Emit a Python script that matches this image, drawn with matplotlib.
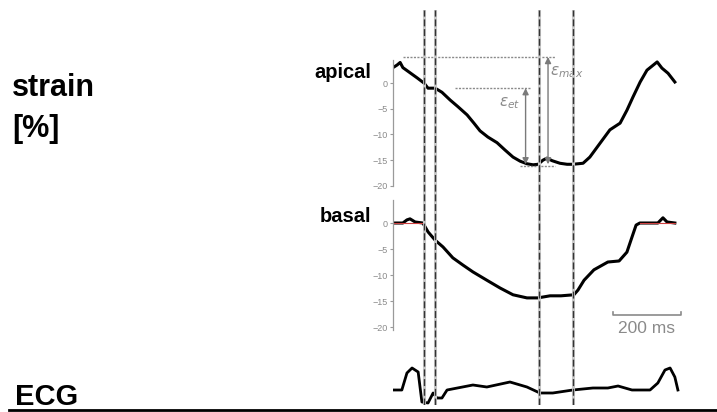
import matplotlib

matplotlib.use("Agg")
import matplotlib.pyplot as plt
from matplotlib.lines import Line2D

plt.rcParams["font.family"] = ["Liberation Sans", "DejaVu Sans"]

# time in ms, strain in %
apical_t = [0, 12, 21, 29, 50, 71, 91, 103, 124, 144, 168, 191, 218, 238, 256, 279,
            306, 329, 353, 374, 394, 412, 427, 441, 453, 468, 491, 512, 529, 559,
            579, 609, 638, 668, 688, 706, 727, 747, 777, 791, 809, 829]
apical_strain = [3.0, 3.5, 4.0, 3.0, 2.0, 1.0, 0.0, -1.0, -1.0, -1.8, -3.3, -4.6, -6.2,
                 -7.8, -9.3, -10.5, -11.6, -13.0, -14.4, -15.2, -15.7, -15.9, -15.8,
                 -15.0, -14.6, -15.1, -15.6, -15.8, -15.8, -15.6, -14.4, -11.7, -9.1,
                 -7.8, -5.3, -2.7, 0.2, 2.5, 4.1, 2.9, 1.9, 0.2]

basal_t = [0, 29, 41, 50, 65, 88, 103, 124, 147, 176, 206, 235, 276, 315, 353, 394,
           426, 462, 494, 532, 544, 562, 591, 632, 665, 688, 703, 715, 726, 779, 794,
           806, 829]
basal_strain = [0.0, 0.0, 0.6, 0.8, 0.2, 0.0, -1.7, -3.3, -4.6, -6.7, -8.1, -9.4, -11.0,
                -12.5, -13.8, -14.4, -14.4, -14.0, -14.0, -13.8, -12.9, -11.0, -9.0, -7.5,
                -7.3, -5.6, -2.7, -0.4, 0.0, 0.0, 1.0, 0.2, 0.0]

ecg_t = [0, 26, 41, 56, 74, 85, 103, 118, 129, 144, 159, 235, 276, 344, 394, 432, 470,
         529, 588, 632, 662, 703, 756, 779, 800, 815, 829, 838]
ecg_amp = [0, 0, 17, 22, 18, -12, -13, -3, -8, -8, 0, 5, 3, 8, 3, -3, -3, 0, 2, 2, 4, 0,
           0, 7, 20, 22, 13, 0]

event_t = [91, 124, 428, 528]
eps_et = (390, -15.8, -1.0)
eps_max = (456, -15.8, 5.06)
scale_bar = (647, 847)

W, H = 717, 412
XLIM = (0, 903)
GRAY = "#8a8a8a"


def px_axes(fig, left, top, right, bottom):
    return fig.add_axes([left / W, 1 - bottom / H, (right - left) / W, (bottom - top) / H])


def strain_axes(ax, ylim):
    ax.set_xlim(XLIM)
    ax.set_ylim(ylim)
    ax.patch.set_alpha(0)
    for s in ["top", "right", "bottom"]:
        ax.spines[s].set_visible(False)
    ax.spines["left"].set_color("#9a9a9a")
    ax.spines["left"].set_linewidth(0.9)
    ax.set_xticks([])
    ax.set_yticks([0, -5, -10, -15, -20])
    ax.tick_params(axis="y", length=2, width=0.8, colors="#9a9a9a", labelsize=6.5,
                   labelcolor=GRAY, pad=2)


fig = plt.figure(figsize=(W / 100, H / 100), dpi=100)

ax_ap = px_axes(fig, 393, 55, 700, 190)
strain_axes(ax_ap, (-20.8, 5.45))
ax_ap.spines["left"].set_bounds(-20, 4.5)
ax_ap.plot(apical_t, apical_strain, color="black", lw=2.2)
ax_ap.hlines(eps_max[2], 29, 476, colors=GRAY, linestyles=(0, (1.5, 1)), lw=1)
ax_ap.hlines(eps_et[2], 182, 406, colors=GRAY, linestyles=(0, (1.5, 1)), lw=1)
ax_ap.hlines(-16.2, 375, 476, colors=GRAY, linestyles=(0, (1.5, 1)), lw=1)
for x, y0, y1 in [eps_et, eps_max]:
    ax_ap.annotate("", xy=(x, y1), xytext=(x, y0),
                   arrowprops=dict(arrowstyle="<|-|>", color="#7a7a7a", lw=1,
                                   mutation_scale=9, shrinkA=0, shrinkB=0))
ax_ap.text(313, -3.9, r"$\varepsilon_{et}$", color=GRAY, fontsize=11,
           ha="left", va="center", family="DejaVu Serif")
ax_ap.text(462, 2.1, r"$\varepsilon_{max}$", color=GRAY, fontsize=11,
           ha="left", va="center", family="DejaVu Serif")

ax_bs = px_axes(fig, 393, 198, 700, 333)
strain_axes(ax_bs, (-21.15, 4.81))
ax_bs.spines["left"].set_bounds(-20.6, 4.4)
ax_bs.plot(basal_t, basal_strain, color="black", lw=2.2)
ax_bs.plot([0, 90], [0, 0], color="#d04040", lw=0.8)
ax_bs.plot([726, 829], [0, 0], color="#d04040", lw=0.8)
ax_bs.plot([scale_bar[0], scale_bar[0], scale_bar[1], scale_bar[1]],
           [-17.1, -17.7, -17.7, -17.1], color=GRAY, lw=1.2)
ax_bs.text(sum(scale_bar) / 2, -20.3, "200 ms", color=GRAY, fontsize=12.5,
           ha="center", va="center")

ax_ecg = px_axes(fig, 393, 355, 700, 410)
ax_ecg.set_xlim(XLIM)
ax_ecg.set_ylim(-20, 35)
ax_ecg.axis("off")
ax_ecg.plot(ecg_t, ecg_amp, color="black", lw=2)

ax_ev = px_axes(fig, 393, 10, 700, 405)
ax_ev.set_xlim(XLIM)
ax_ev.axis("off")
for t in event_t:
    ax_ev.axvline(t, color="#c8c8c8", lw=2.2)
    ax_ev.axvline(t, color="#333333", lw=1.0, linestyle=(0, (5, 2)))

fig.text(12 / W, 1 - 88 / H, "strain", fontsize=22, fontweight="bold", va="center")
fig.text(12 / W, 1 - 129 / H, "[%]", fontsize=22, fontweight="bold", va="center")
fig.text(15 / W, 1 - 405 / H, "ECG", fontsize=21, fontweight="bold", va="baseline")
fig.text(371 / W, 1 - 72 / H, "apical", fontsize=14.5, fontweight="bold",
         ha="right", va="center")
fig.text(371 / W, 1 - 216 / H, "basal", fontsize=14.5, fontweight="bold",
         ha="right", va="center")
fig.add_artist(Line2D([9 / W, 1], [1 - 410 / H, 1 - 410 / H], color="black", lw=2))

fig.savefig("out.png", dpi=100)
